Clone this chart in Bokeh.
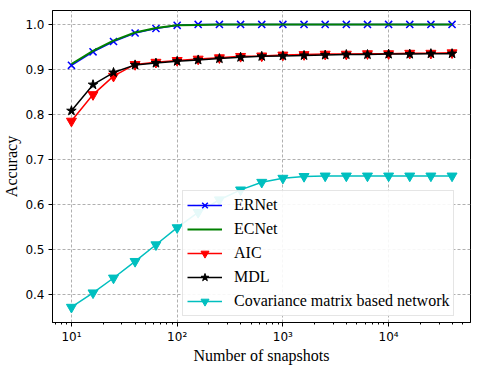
from bokeh.plotting import figure
from bokeh.models import FixedTicker, Range1d, Legend, LegendItem
from bokeh.embed import file_html
from bokeh.resources import INLINE

snapshots = [10, 16, 25, 40, 63, 100, 158, 251, 398, 631, 1000, 1585, 2512,
             3981, 6310, 10000, 15849, 25119, 39811]
ernet = [0.909, 0.939, 0.962, 0.981, 0.991, 0.998, 1.0, 1.0, 1.0, 1.0, 1.0,
         1.0, 1.0, 1.0, 1.0, 1.0, 1.0, 1.0, 1.0]
ecnet = [0.912, 0.941, 0.964, 0.982, 0.992, 0.998, 0.999, 1.0, 1.0, 1.0, 1.0,
         1.0, 1.0, 1.0, 1.0, 1.0, 1.0, 1.0, 1.0]
aic = [0.785, 0.844, 0.885, 0.911, 0.916, 0.920, 0.923, 0.926, 0.929, 0.930,
       0.932, 0.933, 0.934, 0.934, 0.935, 0.935, 0.936, 0.936, 0.937]
mdl = [0.808, 0.866, 0.893, 0.910, 0.914, 0.918, 0.921, 0.924, 0.927, 0.929,
       0.930, 0.931, 0.932, 0.933, 0.933, 0.934, 0.934, 0.935, 0.935]
cov = [0.371, 0.403, 0.436, 0.473, 0.510, 0.548, 0.582, 0.610, 0.632, 0.649,
       0.658, 0.662, 0.663, 0.663, 0.663, 0.663, 0.663, 0.663, 0.663]

x_major = [10, 100, 1000, 10000]
x_major_labels = ["10\u00b9", "10\u00b2", "10\u00b3", "10\u2074"]
y_major = [0.4, 0.5, 0.6, 0.7, 0.8, 0.9, 1.0]
x_label = "Number of snapshots"
y_label = "Accuracy"

SERIF = "Liberation Serif"
SANS = "DejaVu Sans"

X0, X1 = 6.62, 59500
Y0, Y1 = 0.337, 1.031

p = figure(width=472, height=366, x_axis_type="log",
           output_backend="svg", toolbar_location=None,
           min_border_left=51, min_border_right=2, min_border_top=10,
           min_border_bottom=43)
p.x_range = Range1d(X0, X1)
p.y_range = Range1d(Y0, Y1)

minor = []
for d in [1, 10, 100, 1000, 10000]:
    for k in range(2, 10):
        v = d * k
        if X0 < v < X1:
            minor.append(v)
p.xaxis.ticker = FixedTicker(ticks=x_major, minor_ticks=minor)
p.xaxis.major_label_overrides = {v: s for v, s in zip(x_major, x_major_labels)}
p.yaxis.ticker = FixedTicker(ticks=y_major, minor_ticks=[])
p.yaxis.major_label_overrides = {v: f"{v:.1f}" for v in y_major}

for ax in (p.xaxis, p.yaxis):
    ax.major_label_text_font = SANS
    ax.major_label_text_font_size = "12px"
    ax.major_label_text_color = "black"
    ax.axis_label_text_font = SERIF
    ax.axis_label_text_font_size = "16px"
    ax.axis_label_text_font_style = "normal"
    ax.axis_label_text_color = "black"
    ax.axis_line_color = "black"
    ax.major_tick_line_color = "black"
    ax.minor_tick_line_color = "black"
    ax.major_tick_out = 4
    ax.major_tick_in = 0
    ax.minor_tick_out = 2
    ax.minor_tick_in = 0

p.xaxis.major_label_standoff = 3
p.xaxis.axis_label_standoff = 0
p.yaxis.major_label_standoff = 4
p.yaxis.axis_label_standoff = 2
p.xaxis.axis_label = x_label
p.yaxis.axis_label = y_label

p.outline_line_color = "black"
p.outline_line_alpha = 1.0
p.outline_line_width = 1

for g in (p.xgrid, p.ygrid):
    g.grid_line_color = "#b0b0b0"
    g.grid_line_dash = "3 2"
    g.grid_line_width = 1
p.xgrid.ticker = FixedTicker(ticks=x_major)
p.ygrid.ticker = FixedTicker(ticks=y_major)

r1l = p.line(snapshots, ernet, line_color="#0000ff", line_width=1.5)
r1m = p.scatter(snapshots, ernet, marker="x", size=10, line_color="#0000ff",
                line_width=1.5)
r2l = p.line(snapshots, ecnet, line_color="#008000", line_width=2)
r3l = p.line(snapshots, aic, line_color="#ff0000", line_width=1.5)
r3m = p.scatter(snapshots, aic, marker="inverted_triangle", size=10,
                fill_color="#ff0000", line_color="#ff0000")
r4l = p.line(snapshots, mdl, line_color="black", line_width=1.5)
r4m = p.scatter(snapshots, mdl, marker="star", size=10,
                fill_color="black", line_color="black")
r5l = p.line(snapshots, cov, line_color="#00bfbf", line_width=1.5)
r5m = p.scatter(snapshots, cov, marker="inverted_triangle", size=10,
                fill_color="#00bfbf", line_color="#00bfbf")

legend = Legend(items=[
    LegendItem(label="ERNet", renderers=[r1l, r1m]),
    LegendItem(label="ECNet", renderers=[r2l]),
    LegendItem(label="AIC", renderers=[r3l, r3m]),
    LegendItem(label="MDL", renderers=[r4l, r4m]),
    LegendItem(label="Covariance matrix based network", renderers=[r5l, r5m]),
], location=(130, 6))
legend.label_text_font = SERIF
legend.label_text_font_size = "16px"
legend.label_text_color = "black"
legend.glyph_width = 35
legend.glyph_height = 20
legend.label_height = 20
legend.spacing = 4
legend.padding = 4
legend.margin = 0
legend.label_standoff = 12
legend.border_line_color = "#cccccc"
legend.border_line_width = 1
legend.background_fill_color = "white"
legend.background_fill_alpha = 0.9
p.add_layout(legend, "center")

open("out.html", "w").write(file_html(p, INLINE))
